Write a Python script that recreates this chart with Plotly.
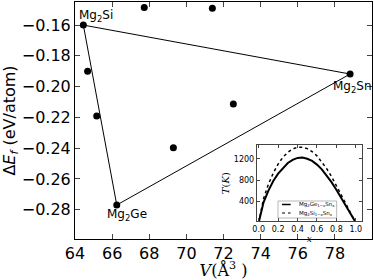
import plotly.graph_objects as go

# Main scatter data
vol = [64.45, 64.68, 65.17, 67.73, 71.40, 78.82, 72.53, 69.30, 66.25]
dE = [-0.160, -0.190, -0.219, -0.1485, -0.149, -0.1918, -0.2113, -0.2397, -0.2769]

# Hull triangle vertices (Mg2Si, Mg2Sn, Mg2Ge, back to Mg2Si)
hull_v = [64.45, 78.82, 66.25, 64.45]
hull_e = [-0.160, -0.1918, -0.2769, -0.160]

labels = ["Mg<sub>2</sub>Si", "Mg<sub>2</sub>Sn", "Mg<sub>2</sub>Ge"]
label_v = [64.45, 78.82, 66.25]
label_e = [-0.160, -0.1918, -0.2769]

# Inset curves
x_comp = [0.0, 0.05, 0.1, 0.15, 0.2, 0.25, 0.3, 0.35, 0.4, 0.45, 0.5,
          0.55, 0.6, 0.65, 0.7, 0.75, 0.8, 0.85, 0.9, 0.95, 1.0]
T_ge = [0, 380, 600, 780, 920, 1030, 1120, 1180, 1215, 1222, 1200,
        1160, 1090, 1000, 890, 760, 615, 455, 295, 140, 0]
T_si = [0, 450, 720, 930, 1100, 1230, 1320, 1385, 1415, 1418, 1390,
        1335, 1255, 1145, 1015, 865, 700, 525, 345, 165, 0]
legend_names = ["Mg<sub>2</sub>Ge<sub>1−x</sub>Sn<sub>x</sub>",
                "Mg<sub>2</sub>Si<sub>1−x</sub>Sn<sub>x</sub>"]

xticks_main = [64, 66, 68, 70, 72, 74, 76, 78, 80]
yticks_main = [-0.28, -0.26, -0.24, -0.22, -0.20, -0.18, -0.16]
xticks_in = [0.0, 0.2, 0.4, 0.6, 0.8, 1.0]
yticks_in = [400, 800, 1200]

fig = go.Figure()

fig.add_trace(go.Scatter(x=hull_v, y=hull_e, mode="lines",
                         line=dict(color="black", width=1), showlegend=False,
                         xaxis="x", yaxis="y"))
fig.add_trace(go.Scatter(x=vol, y=dE, mode="markers",
                         marker=dict(color="black", size=7), showlegend=False,
                         xaxis="x", yaxis="y"))

styles = [dict(color="black", width=2), dict(color="black", width=1.5, dash="dot")]
fig.add_trace(go.Scatter(x=x_comp, y=T_ge, mode="lines", line=styles[0],
                         name=legend_names[0], showlegend=False, xaxis="x2", yaxis="y2"))
fig.add_trace(go.Scatter(x=x_comp, y=T_si, mode="lines", line=styles[1],
                         name=legend_names[1], showlegend=False, xaxis="x2", yaxis="y2"))

# point labels
shifts = [(9, "left", -6), (-13, "center", 2), (-10, "left", -12)]
for t, xv, yv, (dy, anchor, xs) in zip(labels, label_v, label_e, shifts):
    fig.add_annotation(x=xv, y=yv, xref="x", yref="y", text=t, showarrow=False,
                       xanchor=anchor, yanchor="middle", xshift=xs, yshift=dy,
                       font=dict(size=12, color="black", family="DejaVu Sans"))

# manual inset legend
legend_styles = [dict(color="black", width=1.5), dict(color="black", width=1.2, dash="dot")]
fig.add_shape(type="rect", xref="paper", yref="paper", x0=0.6835, x1=0.881, y0=0.0886, y1=0.1603,
              line=dict(color="#888", width=0.6), fillcolor="white", layer="above")
for name, st, ly in zip(legend_names, legend_styles, [0.1456, 0.1097]):
    fig.add_shape(type="line", xref="paper", yref="paper", x0=0.697, x1=0.726, y0=ly, y1=ly,
                  line=st, layer="above")
    fig.add_annotation(x=0.747, y=ly, xref="paper", yref="paper", text=name, showarrow=False,
                       xanchor="left", yanchor="middle", font=dict(size=5.5, color="black"))

fig.update_layout(
    width=374, height=280,
    margin=dict(l=75, r=2, t=2, b=41, autoexpand=False),
    paper_bgcolor="white", plot_bgcolor="white",
    font=dict(family="DejaVu Sans", color="black"),
    showlegend=False,
    xaxis=dict(range=[64, 80], tickvals=xticks_main, ticks="inside", ticklen=5,
               showline=True, linecolor="black", linewidth=1, mirror="ticks",
               showgrid=False, zeroline=False, tickfont=dict(size=16), automargin=False,
               title=dict(text="<i>V</i>(Å<sup>3</sup> )", font=dict(size=16, family="DejaVu Serif"), standoff=0)),
    yaxis=dict(range=[-0.299, -0.145], tickvals=yticks_main, tickformat=".2f",
               ticks="inside", ticklen=5, automargin=False,
               showline=True, linecolor="black", linewidth=1, mirror="ticks",
               showgrid=False, zeroline=False, tickfont=dict(size=16),
               title=dict(text="Δ<i>E</i><sub><i>f</i></sub> (eV/atom)", font=dict(size=16), standoff=4)),
    xaxis2=dict(domain=[0.612, 0.965], anchor="y2", range=[-0.02, 1.06], tickvals=xticks_in,
                tickformat=".1f", ticks="inside", ticklen=3, automargin=False,
                showline=True, linecolor="#444", linewidth=1, mirror="ticks",
                showgrid=False, zeroline=False, tickfont=dict(size=8),
                title=dict(text="<i>x</i>", font=dict(size=9, family="DejaVu Serif"), standoff=0)),
    yaxis2=dict(domain=[0.074, 0.397], anchor="x2", range=[20, 1460], tickvals=yticks_in,
                ticks="inside", ticklen=3, automargin=False,
                showline=True, linecolor="#444", linewidth=1, mirror="ticks",
                showgrid=False, zeroline=False, tickfont=dict(size=8),
                title=dict(text="<i>T</i>(<i>K</i>)", font=dict(size=10, family="DejaVu Serif"), standoff=2)),
)

fig.write_html("out.html", config={"displayModeBar": False},
               post_script="document.body.style.margin='0';document.body.style.padding='0';")
